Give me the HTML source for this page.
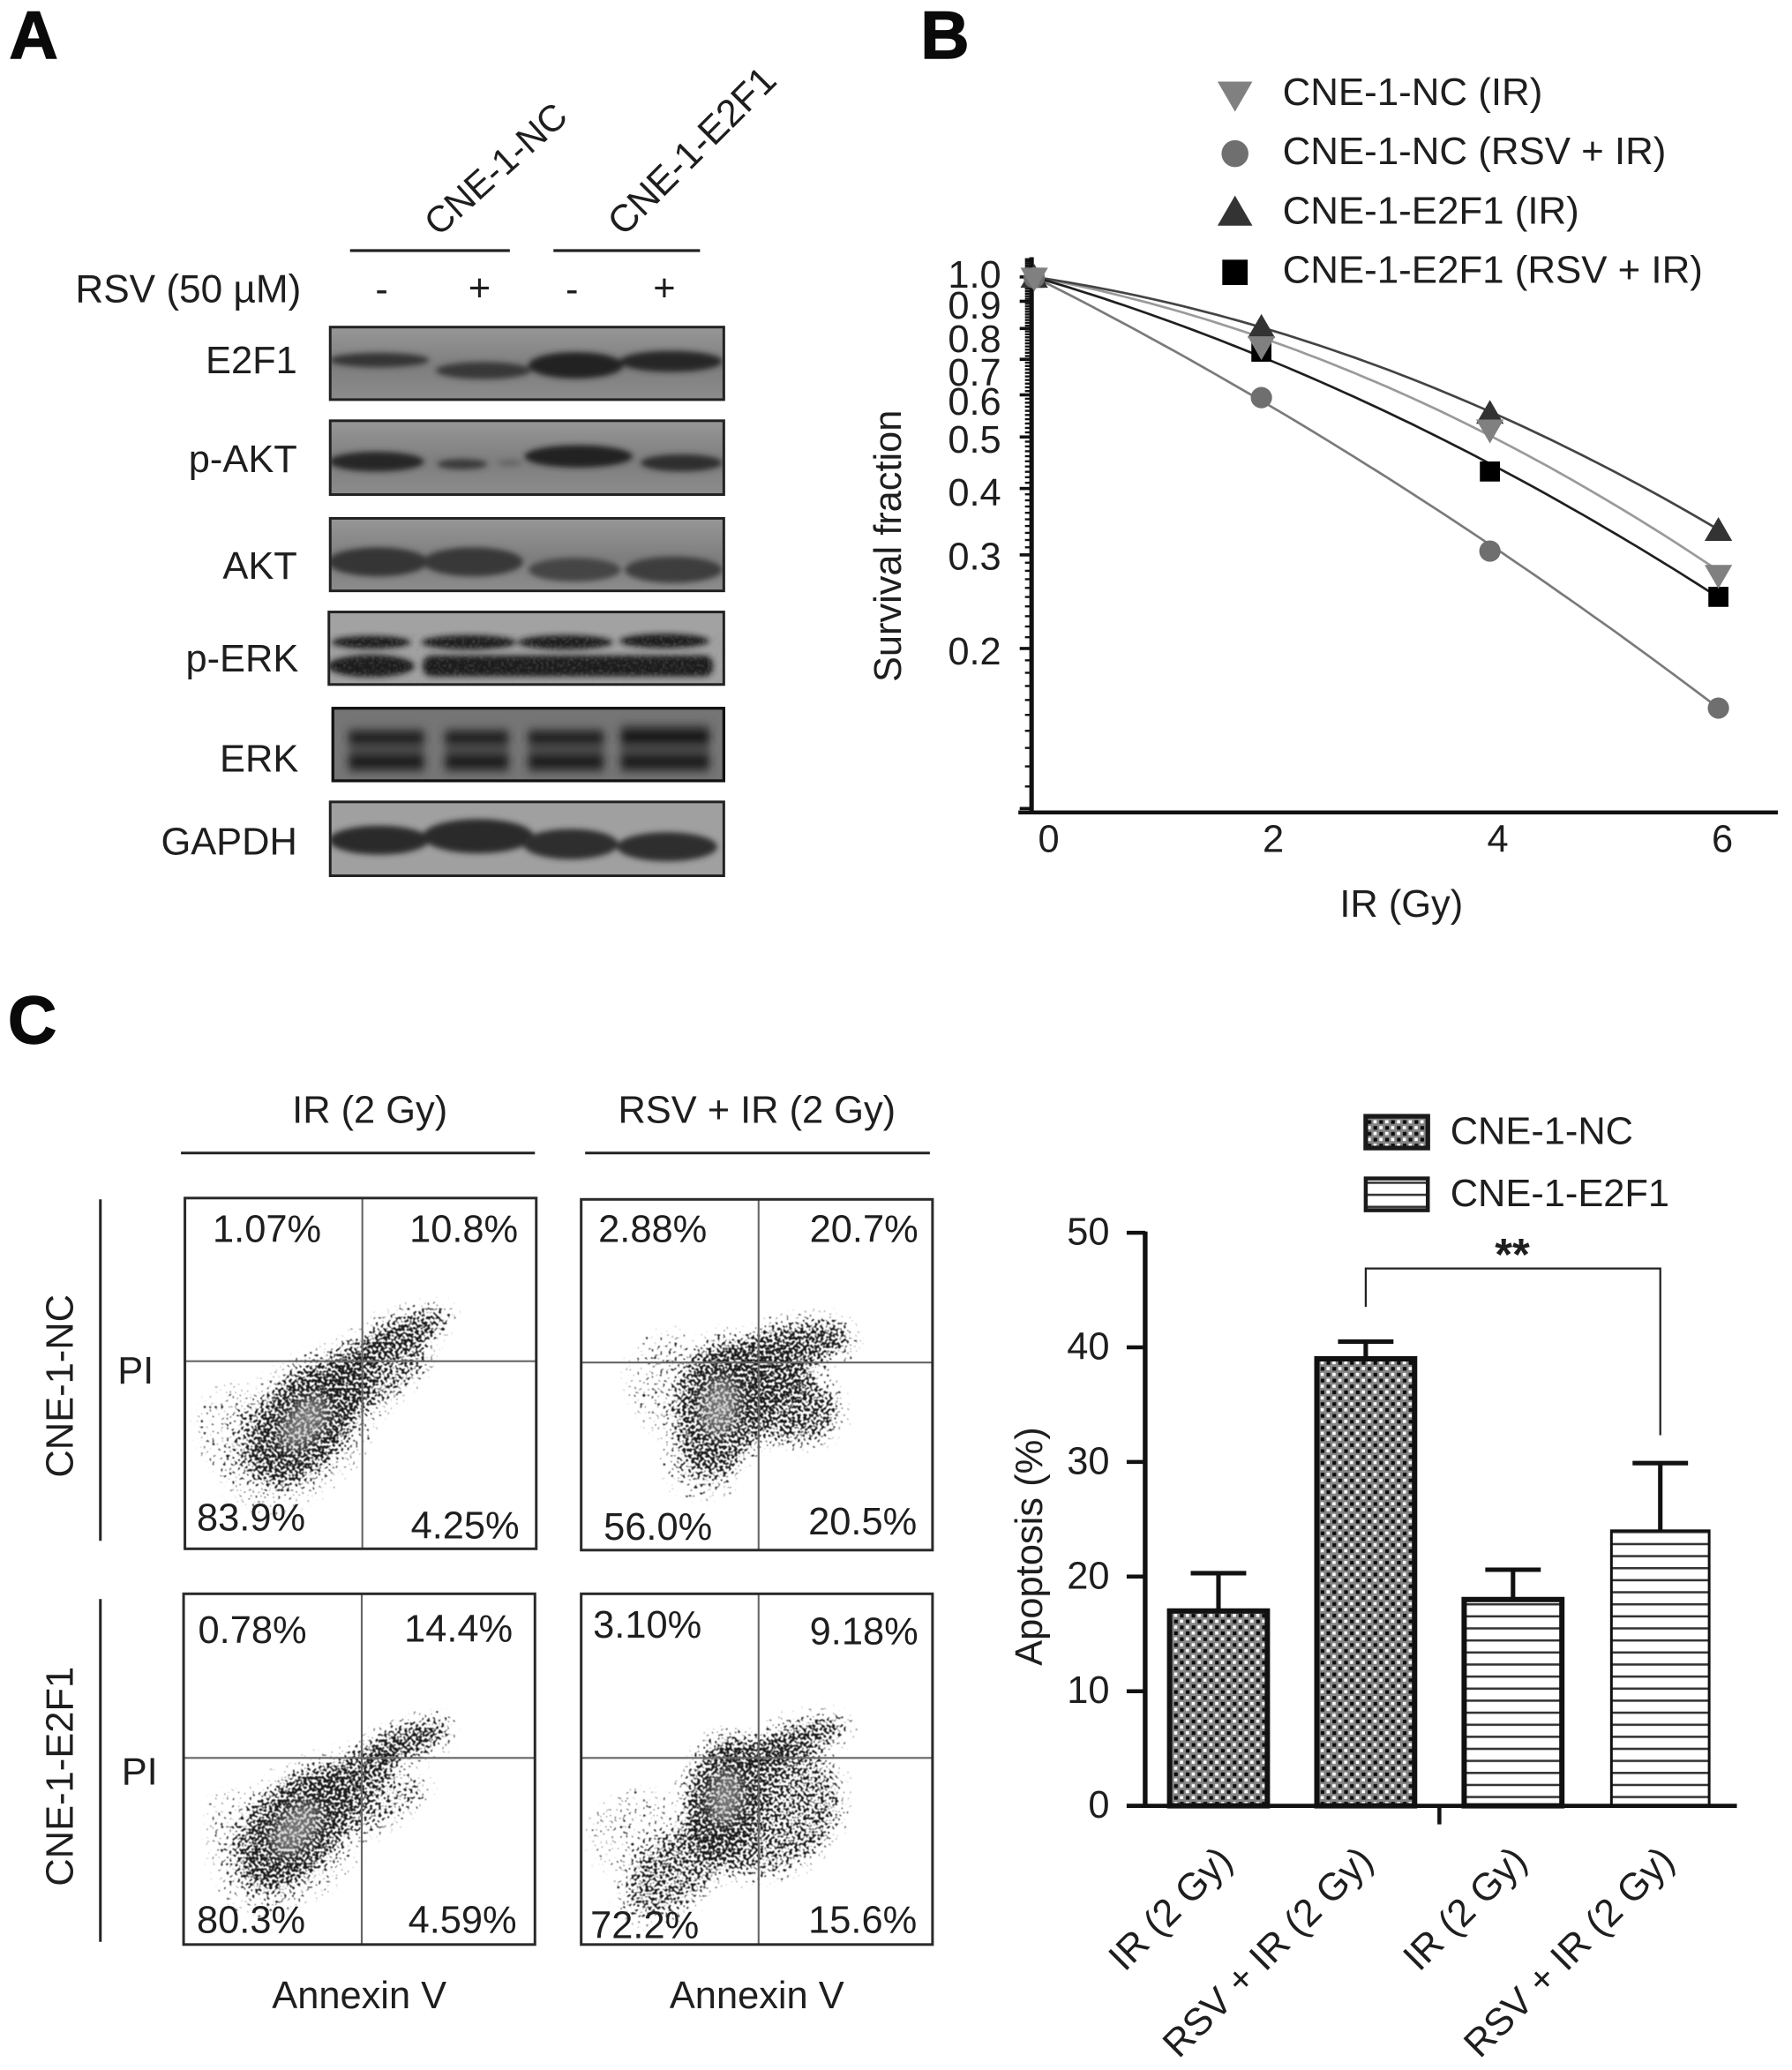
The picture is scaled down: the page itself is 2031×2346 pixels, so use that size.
<!DOCTYPE html>
<html lang="en">
<head>
<meta charset="utf-8">
<title>CNE-1 E2F1 radiosensitivity figure</title>
<style>
html,body{margin:0;padding:0;background:#fff;}
svg{display:block;}
text{font-family:"Liberation Sans",Arial,sans-serif;font-size:29px;fill:#1e1e1e;}
.end{text-anchor:end;}
.mid{text-anchor:middle;}
.panel-letter{font-weight:bold;font-size:51px;fill:#0a0a0a;stroke:#0a0a0a;stroke-width:1;}
</style>
</head>
<body>
<svg id="figure" xmlns="http://www.w3.org/2000/svg" width="2031" height="2346" viewBox="0 0 1354 1564">
<defs>
  <filter id="soft3" x="-20%" y="-60%" width="140%" height="220%"><feGaussianBlur stdDeviation="2.2"/></filter>
  <filter id="soft4" x="-20%" y="-60%" width="140%" height="220%"><feGaussianBlur stdDeviation="3.2"/></filter>
  <filter id="grain" x="0" y="0" width="1" height="1" color-interpolation-filters="sRGB">
    <feTurbulence type="fractalNoise" baseFrequency="0.5" numOctaves="1" seed="3" result="noise"/>
    <feColorMatrix in="noise" type="matrix" values="0 0 0 0 0.55  0 0 0 0 0.55  0 0 0 0 0.55  3.2 0 0 0 -1.5"/>
    <feGaussianBlur stdDeviation="0.5"/>
  </filter>
  <filter id="speckle" x="0" y="0" width="1" height="1" color-interpolation-filters="sRGB">
    <feGaussianBlur in="SourceAlpha" stdDeviation="6" result="density"/>
    <feComponentTransfer in="density" result="mask"><feFuncA type="linear" slope="12" intercept="-0.2"/></feComponentTransfer>
    <feTurbulence type="fractalNoise" baseFrequency="0.46" numOctaves="1" seed="7" result="noise"/>
    <feColorMatrix in="noise" type="matrix" values="0 0 0 0 0  0 0 0 0 0  0 0 0 0 0  1 0 0 0 0" result="noiseAlpha"/>
    <feComposite in="density" in2="noiseAlpha" operator="arithmetic" k1="0" k2="0.3" k3="1" k4="-0.69" result="sum"/>
    <feComponentTransfer in="sum" result="thresh"><feFuncA type="linear" slope="8" intercept="0"/></feComponentTransfer>
    <feFlood flood-color="#1a1a1a" result="ink"/>
    <feComposite in="ink" in2="thresh" operator="in" result="dots"/>
    <feComposite in="dots" in2="mask" operator="in" result="masked"/>
    <feGaussianBlur in="masked" stdDeviation="0.3"/>
  </filter>
  <filter id="coreBlur" x="-60%" y="-60%" width="220%" height="220%"><feGaussianBlur stdDeviation="5"/></filter>
  <pattern id="checker" patternUnits="userSpaceOnUse" width="8.88" height="8.88">
    <rect width="8.88" height="8.88" fill="#858585"/>
    <rect x="0.9" y="0.9" width="2.8" height="2.8" fill="#0c0c0c"/>
    <rect x="5.34" y="5.34" width="2.8" height="2.8" fill="#0c0c0c"/>
    <rect x="5.34" y="0.9" width="2.4" height="2.4" fill="#fff"/>
    <rect x="0.9" y="5.34" width="2.4" height="2.4" fill="#fff"/>
  </pattern>
  <pattern id="hlines" patternUnits="userSpaceOnUse" width="10" height="9.1">
    <rect width="10" height="9.1" fill="#fff"/>
    <rect y="3.6" width="10" height="1.7" fill="#333"/>
  </pattern>
  <linearGradient id="blotBg" x1="0" y1="0" x2="0" y2="1">
    <stop offset="0" stop-color="#979797"/><stop offset="0.55" stop-color="#7e7e7e"/><stop offset="1" stop-color="#8c8c8c"/>
  </linearGradient>
  <clipPath id="clip-e2f1"><rect x="250" y="248" width="298" height="55"/></clipPath>
  <clipPath id="clip-pakt"><rect x="250" y="319" width="298" height="56"/></clipPath>
  <clipPath id="clip-akt"><rect x="250" y="393" width="298" height="55"/></clipPath>
  <clipPath id="clip-perk"><rect x="249" y="464" width="299" height="55"/></clipPath>
  <clipPath id="clip-erk"><rect x="252" y="537" width="296" height="55"/></clipPath>
  <clipPath id="clip-gapdh"><rect x="250" y="608" width="298" height="56"/></clipPath>
</defs>

<!-- Panel A -->
<g transform="matrix(0.998 0 0 0.9965 0 0)">
  <text class="panel-letter" x="7" y="44">A</text>
  <text transform="translate(332 180) rotate(-42)" style="font-size:28px">CNE-1-NC</text>
  <text transform="translate(472 180) rotate(-45)">CNE-1-E2F1</text>
  <line x1="265" y1="190" x2="386" y2="190" stroke="#222" stroke-width="2.2"/>
  <line x1="419" y1="190" x2="530" y2="190" stroke="#222" stroke-width="2.2"/>
  <text x="57" y="229" style="font-size:29.5px">RSV (50 µM)</text>
  <text class="mid" x="289" y="229">-</text>
  <text class="mid" x="363" y="228">+</text>
  <text class="mid" x="433" y="229">-</text>
  <text class="mid" x="503" y="228">+</text>

  <text class="end" x="225" y="283">E2F1</text>
  <text class="end" x="225" y="358">p-AKT</text>
  <text class="end" x="225" y="439">AKT</text>
  <text class="end" x="226" y="509">p-ERK</text>
  <text class="end" x="226" y="585">ERK</text>
  <text class="end" x="225" y="648">GAPDH</text>

  <g>
    <rect x="250" y="248" width="298" height="55" fill="url(#blotBg)"/>
    <g clip-path="url(#clip-e2f1)" filter="url(#soft3)">
      <ellipse cx="287" cy="273" rx="38" ry="5.5" fill="#363636"/>
      <ellipse cx="366" cy="281" rx="36" ry="6.5" fill="#383838"/>
      <ellipse cx="436" cy="277" rx="36" ry="10" fill="#202020"/>
      <ellipse cx="508" cy="274" rx="39" ry="8" fill="#282828"/>
    </g>
    <rect x="250" y="248" width="298" height="55" fill="none" stroke="#222" stroke-width="2"/>
  </g>
  <g>
    <rect x="250" y="319" width="298" height="56" fill="url(#blotBg)"/>
    <g clip-path="url(#clip-pakt)" filter="url(#soft3)">
      <ellipse cx="285" cy="350" rx="36" ry="7.5" fill="#262626"/>
      <ellipse cx="350" cy="352" rx="19" ry="4" fill="#3a3a3a"/>
      <ellipse cx="386" cy="351" rx="9" ry="2.5" fill="#666"/>
      <ellipse cx="438" cy="346" rx="41" ry="8.5" fill="#202020"/>
      <ellipse cx="516" cy="351" rx="31" ry="6.5" fill="#2e2e2e"/>
    </g>
    <rect x="250" y="319" width="298" height="56" fill="none" stroke="#222" stroke-width="2"/>
  </g>
  <g>
    <rect x="250" y="393" width="298" height="55" fill="url(#blotBg)"/>
    <g clip-path="url(#clip-akt)" filter="url(#soft3)">
      <ellipse cx="286" cy="426" rx="38" ry="11" fill="#363636"/>
      <ellipse cx="358" cy="426" rx="38" ry="11" fill="#383838"/>
      <ellipse cx="435" cy="432" rx="35" ry="9" fill="#444"/>
      <ellipse cx="510" cy="432" rx="37" ry="10" fill="#3c3c3c"/>
    </g>
    <rect x="250" y="393" width="298" height="55" fill="none" stroke="#222" stroke-width="2"/>
  </g>
  <g>
    <rect x="249" y="464" width="299" height="55" fill="#a2a2a2"/>
    <g clip-path="url(#clip-perk)" filter="url(#soft3)">
      <ellipse cx="281" cy="487" rx="30" ry="5" fill="#1c1c1c"/>
      <ellipse cx="355" cy="487" rx="36" ry="5.5" fill="#1a1a1a"/>
      <ellipse cx="428" cy="487" rx="36" ry="5.5" fill="#1c1c1c"/>
      <ellipse cx="503" cy="486" rx="34" ry="5.5" fill="#1c1c1c"/>
      <ellipse cx="281" cy="505" rx="33" ry="8.5" fill="#1c1c1c"/>
      <rect x="320" y="497" width="220" height="16" rx="7" fill="#1c1c1c"/>
    </g>
    <rect x="249" y="480" width="299" height="38" filter="url(#grain)" clip-path="url(#clip-perk)" opacity="0.35"/>
    <rect x="249" y="464" width="299" height="55" fill="none" stroke="#222" stroke-width="2"/>
  </g>
  <g>
    <rect x="252" y="537" width="296" height="55" fill="#757575"/>
    <g clip-path="url(#clip-erk)" filter="url(#soft4)">
      <rect x="264" y="552" width="57" height="34" fill="#4c4c4c"/>
      <rect x="337" y="552" width="48" height="34" fill="#4c4c4c"/>
      <rect x="400" y="552" width="57" height="34" fill="#4c4c4c"/>
      <rect x="470" y="549" width="67" height="37" fill="#484848"/>
      <rect x="264" y="555" width="57" height="9" fill="#1c1c1c"/>
      <rect x="337" y="555" width="48" height="9" fill="#1c1c1c"/>
      <rect x="400" y="555" width="57" height="9" fill="#1c1c1c"/>
      <rect x="470" y="553" width="67" height="11" fill="#181818"/>
      <rect x="264" y="572" width="57" height="11" fill="#1a1a1a"/>
      <rect x="337" y="572" width="48" height="11" fill="#1a1a1a"/>
      <rect x="400" y="572" width="57" height="11" fill="#1a1a1a"/>
      <rect x="470" y="572" width="67" height="11" fill="#1a1a1a"/>
    </g>
    <rect x="252" y="537" width="296" height="55" fill="none" stroke="#111" stroke-width="2.2"/>
  </g>
  <g>
    <rect x="250" y="608" width="298" height="56" fill="#a0a0a0"/>
    <g clip-path="url(#clip-gapdh)" filter="url(#soft3)">
      <ellipse cx="287" cy="637" rx="38" ry="11" fill="#2b2b2b"/>
      <ellipse cx="362" cy="634" rx="42" ry="13" fill="#2b2b2b"/>
      <ellipse cx="432" cy="640" rx="36" ry="11.5" fill="#2e2e2e"/>
      <ellipse cx="505" cy="642" rx="38" ry="11" fill="#2e2e2e"/>
    </g>
    <rect x="250" y="608" width="298" height="56" fill="none" stroke="#222" stroke-width="2"/>
  </g>
</g>

<!-- Panel B -->
<g id="survival-chart" transform="matrix(0.998 0 0 0.9965 0 0)">
  <text class="panel-letter" x="697" y="44">B</text>
  <text class="mid" transform="translate(682 414) rotate(-90)">Survival fraction</text>
  <text class="mid" x="1061" y="695">IR (Gy)</text>
</g>

<!-- Panel C flow plots -->
<g id="flow-plots" transform="matrix(0.998 0 0 1 0 -2.8)">
  <text class="panel-letter" x="6" y="791">C</text>
  <text class="mid" x="280" y="851">IR (2 Gy)</text>
  <text class="mid" x="573" y="851">RSV + IR (2 Gy)</text>
  <line x1="137" y1="874" x2="405" y2="874" stroke="#222" stroke-width="2"/>
  <line x1="443" y1="874" x2="704" y2="874" stroke="#222" stroke-width="2"/>
  <line x1="76" y1="909" x2="76" y2="1167" stroke="#222" stroke-width="2"/>
  <line x1="76" y1="1211" x2="76" y2="1470" stroke="#222" stroke-width="2"/>
  <text class="mid" transform="translate(55 1050) rotate(-90)">CNE-1-NC</text>
  <text class="mid" transform="translate(55 1345) rotate(-90)">CNE-1-E2F1</text>
  <text x="89" y="1048">PI</text>
  <text x="92" y="1351">PI</text>
  <text class="mid" x="272" y="1520">Annexin V</text>
  <text class="mid" x="573" y="1520">Annexin V</text>
</g>

<!-- Panel C bars -->
<g id="bar-chart" transform="matrix(0.998 0 0 1 0 -2.6)">
  <text class="mid" transform="translate(789 1171) rotate(-90)">Apoptosis (%)</text>
  <rect x="1034" y="846" width="47" height="24" fill="url(#checker)" stroke="#1a1a1a" stroke-width="3.5"/>
  <rect x="1034" y="893" width="47" height="24" fill="url(#hlines)" stroke="#1a1a1a" stroke-width="3"/>
  <text x="1098" y="867">CNE-1-NC</text>
  <text x="1098" y="914">CNE-1-E2F1</text>
</g>

<script>
// ---------- Survival chart data (panel B) ----------
const doseValues = [0, 2, 4, 6];
const survivalTickLabels = [1.0, 0.9, 0.8, 0.7, 0.6, 0.5, 0.4, 0.3, 0.2];
const survivalNcIr = [1, 0.743, 0.518, 0.276];
const survivalNcRsvIr = [1, 0.595, 0.306, 0.155];
const survivalE2f1Ir = [1, 0.805, 0.555, 0.334];
const survivalE2f1RsvIr = [1, 0.726, 0.432, 0.251];
const survivalSeriesNames = ['CNE-1-NC (IR)', 'CNE-1-NC (RSV + IR)', 'CNE-1-E2F1 (IR)', 'CNE-1-E2F1 (RSV + IR)'];

// ---------- Flow cytometry data (panel C): cluster centres and spreads in channel units 0-100 ----------
const flowPanelNames = ['nc-ir', 'nc-rsv-ir', 'e2f1-ir', 'e2f1-rsv-ir'];
const flowAnnexin = [
  [34, 63, 54, 48, 13, 33],
  [39.5, 60, 60, 51, 25, 34],
  [32, 64, 49, 57, 15, 32],
  [41, 52, 27, 62.5, 50, 16]
];
const flowPI = [
  [36, 62, 49, 53.5, 34, 34],
  [41, 58, 40, 50, 48, 24],
  [33, 58, 48, 40, 33, 31],
  [42, 38, 21, 59, 54, 31]
];
const flowSpreadAnnexin = [
  [21, 13, 18, 11, 9, 27],
  [20, 18, 14, 15, 11, 10],
  [21, 13, 15, 14, 9, 27],
  [18, 23, 18, 14, 12, 13]
];
const flowSpreadPI = [
  [12.5, 5, 8, 5.5, 12, 17],
  [13, 7, 10, 10, 14, 9],
  [12.5, 5, 7, 6, 11, 17],
  [12, 18, 10, 5, 4.5, 13]
];
const flowTilt = [
  [50, 20, 30, 35, 0, 45],
  [80, 10, 0, 0, 0, 0],
  [50, 18, 35, 25, 0, 45],
  [80, 20, 40, 15, 0, 0]
];
const flowDensity = [
  [0.9, 0.9, 0.7, 0.85, 0.28, 0.32],
  [0.85, 0.88, 0.8, 0.75, 0.32, 0.42],
  [0.9, 0.9, 0.85, 0.55, 0.25, 0.28],
  [0.82, 0.72, 0.72, 0.85, 0.85, 0.25]
];
const flowPercentLabels = [
  ['1.07%', '10.8%', '83.9%', '4.25%'],
  ['2.88%', '20.7%', '56.0%', '20.5%'],
  ['0.78%', '14.4%', '80.3%', '4.59%'],
  ['3.10%', '9.18%', '72.2%', '15.6%']
];

// ---------- Apoptosis bar data (panel C) ----------
const barCategories = ['IR (2 Gy)', 'RSV + IR (2 Gy)', 'IR (2 Gy)', 'RSV + IR (2 Gy)'];
const barGroups = ['CNE-1-NC', 'CNE-1-NC', 'CNE-1-E2F1', 'CNE-1-E2F1'];
const barValues = [17, 39, 18, 24];
const barErrors = [3.3, 1.5, 2.6, 5.9];
const barTickLabels = [0, 10, 20, 30, 40, 50];

// ---------- helpers ----------
const NS = 'http://www.w3.org/2000/svg';
function make(tag, attrs, parent, txt) {
  const e = document.createElementNS(NS, tag);
  for (const k in attrs) e.setAttribute(k, attrs[k]);
  if (txt !== undefined) e.textContent = txt;
  parent.appendChild(e);
  return e;
}

// ---------- Panel B ----------
(function () {
  const root = document.getElementById('survival-chart');
  const sx = d => 783 + 86.5 * d;
  const sy = v => 210 - 403 * Math.log10(v);
  const baseY = 616;

  const seriesValues = [survivalNcIr, survivalNcRsvIr, survivalE2f1Ir, survivalE2f1RsvIr];
  const lineColors = ['#9a9a9a', '#7a7a7a', '#444444', '#1f1f1f'];
  const markerColors = ['#808080', '#6f6f6f', '#333333', '#000000'];
  const markerKinds = ['down', 'circle', 'up', 'square'];
  const drawOrder = [3, 2, 1, 0];

  function marker(kind, x, y, s, color, parent) {
    if (kind === 'circle') return make('circle', {cx: x, cy: y, r: s * 0.85, fill: color}, parent);
    if (kind === 'square') return make('rect', {x: x - s * 0.8, y: y - s * 0.8, width: s * 1.6, height: s * 1.6, fill: color}, parent);
    const d = kind === 'up' ? -1 : 1;
    const pts = [[x - s * 1.1, y - d * s * 0.8], [x + s * 1.1, y - d * s * 0.8], [x, y + d * s * 1.1]].map(p => p.join(',')).join(' ');
    return make('polygon', {points: pts, fill: color}, parent);
  }

  // linear-quadratic fit through the origin for each series
  function fit(values) {
    let s11 = 0, s12 = 0, s22 = 0, b1 = 0, b2 = 0;
    doseValues.forEach((d, i) => {
      if (d === 0) return;
      const l = Math.log(values[i]);
      s11 += d * d; s12 += d * d * d; s22 += d * d * d * d;
      b1 += d * l; b2 += d * d * l;
    });
    const det = s11 * s22 - s12 * s12;
    return [(b1 * s22 - b2 * s12) / det, (s11 * b2 - s12 * b1) / det];
  }

  seriesValues.forEach((values, si) => {
    const co = fit(values);
    let pts = '';
    for (let k = 0; k <= 60; k++) {
      const d = 6 * k / 60;
      pts += sx(d).toFixed(1) + ',' + sy(Math.exp(co[0] * d + co[1] * d * d)).toFixed(1) + ' ';
    }
    const line = make('polyline', {points: pts, fill: 'none', stroke: lineColors[si], 'stroke-width': 1.8}, root);
    
    
  });

  // axes
  const yAxis = make('line', {x1: 781, y1: 195, x2: 781, y2: baseY + 1, stroke: '#111', 'stroke-width': 3.4}, root);
  
  
  const xAxis = make('line', {x1: 771, y1: baseY, x2: 1346, y2: baseY, stroke: '#111', 'stroke-width': 3}, root);
  
  
  for (let i = 10; i <= 108; i += 1) {
    const v = i / 100;
    if (sy(v) > baseY) continue;
    const major = i % 10 === 0;
    const t = make('line', {x1: major ? 772 : 776, y1: sy(v), x2: 781, y2: sy(v), stroke: '#111', 'stroke-width': major ? 2.4 : 1.6}, root);
    
    
  }

  drawOrder.forEach(si => {
    seriesValues[si].forEach((v, i) => {
      const m = marker(markerKinds[si], sx(doseValues[i]) - (i === 0 ? 0 : 1), sy(v) + 0.6, 9.5, markerColors[si], root);
      
      
    });
  });

  const labelNudge = {'1': -2, '0.9': 3, '0.8': 8, '0.7': 10, '0.6': 5, '0.5': 2, '0.4': 3, '0.3': 1, '0.2': 2};
  survivalTickLabels.forEach(v => {
    const t = make('text', {x: 758, y: sy(v) + 10 + labelNudge[String(v)], 'text-anchor': 'end'}, root, v.toFixed(1));
    
    
  });
  doseValues.forEach(d => {
    const t = make('text', {x: sx(d) + 2 + (6 - d) * 1.5, y: 646, 'text-anchor': 'middle'}, root, String(d));
    
    
  });

  // legend
  survivalSeriesNames.forEach((n, i) => {
    const ly = 71.5 + 45 * i;
    const m = marker(markerKinds[i], 935, ly, 12, markerColors[i], root);
    
    
    const t = make('text', {x: 971, y: ly + 8, style: 'font-size:29.3px'}, root, n);
    
    
  });
})();

// ---------- Panel C flow plots ----------
(function () {
  const root = document.getElementById('flow-plots');
  const lefts = [140, 440, 139, 440];
  const tops = [908, 909, 1207, 1207];
  const crossA = [50.5, 50.5, 50.7, 50.5];
  const crossP = [53.5, 53.5, 53.2, 53.2];
  const W = 266, H = 265;
  const labelX = [[161, 310, 149, 311], [453, 613, 457, 612], [150, 306, 149, 309], [449, 613, 447, 612]];
  const labelY = [[941, 941, 1159, 1165], [941, 941, 1166, 1162], [1244, 1243, 1463, 1463], [1240, 1245, 1467, 1463]];

  flowPanelNames.forEach((name, p) => {
    const g = make('g', {}, root);
    
    
    const px = a => lefts[p] + a / 100 * W;
    const py = v => tops[p] + H - v / 100 * H;

    const bg = make('rect', {x: lefts[p], y: tops[p], width: W, height: H, fill: '#fff'}, g);
    
    

    const dots = make('g', {filter: 'url(#speckle)'}, g);
    
    
    const box = make('rect', {x: lefts[p], y: tops[p], width: W, height: H, fill: '#000', 'fill-opacity': 0}, dots);
    
    
    flowAnnexin[p].forEach((a, c) => {
      const cx = px(a), cy = py(flowPI[p][c]);
      const e = make('ellipse', {
        cx: cx, cy: cy,
        rx: flowSpreadAnnexin[p][c] * W / 100,
        ry: flowSpreadPI[p][c] * H / 100,
        fill: '#000', 'fill-opacity': flowDensity[p][c],
        transform: 'rotate(' + (-flowTilt[p][c]) + ' ' + cx + ' ' + cy + ')'
      }, dots);
      
      
    });

    const cx0 = px(flowAnnexin[p][0]), cy0 = py(flowPI[p][0]);
    const core = make('ellipse', {
      cx: cx0, cy: cy0,
      rx: flowSpreadAnnexin[p][0] * W / 100 * 0.42,
      ry: flowSpreadPI[p][0] * H / 100 * 0.4,
      fill: '#b5b5b5', 'fill-opacity': 0.55, filter: 'url(#coreBlur)',
      transform: 'rotate(' + (-flowTilt[p][0]) + ' ' + cx0 + ' ' + cy0 + ')'
    }, g);
    
    

    const hLine = make('line', {x1: lefts[p], y1: py(crossP[p]), x2: lefts[p] + W, y2: py(crossP[p]), stroke: '#666', 'stroke-width': 1.4}, g);
    
    
    const vLine = make('line', {x1: px(crossA[p]), y1: tops[p], x2: px(crossA[p]), y2: tops[p] + H, stroke: '#666', 'stroke-width': 1.4}, g);
    
    
    const border = make('rect', {x: lefts[p], y: tops[p], width: W, height: H, fill: 'none', stroke: '#2a2a2a', 'stroke-width': 2}, g);
    
    

    flowPercentLabels[p].forEach((s, i) => {
      const t = make('text', {x: labelX[p][i], y: labelY[p][i]}, g, s);
      
      
    });
  });
})();

// ---------- Panel C bars ----------
(function () {
  const root = document.getElementById('bar-chart');
  const bx = i => 922.5 + 111.5 * i;
  const by = v => 1367 - 8.66 * v;
  const halfW = 37;
  const strokeW = [4, 4, 4, 2];
  const labelShift = [12, 7, 12, 12];

  barValues.forEach((v, i) => {
    const top = v + barErrors[i];
    const stem = make('line', {x1: bx(i), y1: by(v), x2: bx(i), y2: by(top), stroke: '#111', 'stroke-width': 3.4}, root);
    
    
    const cap = make('line', {x1: bx(i) - 21, y1: by(top), x2: bx(i) + 21, y2: by(top), stroke: '#111', 'stroke-width': 3.4}, root);
    
    
    const r = make('rect', {
      x: bx(i) - halfW, y: by(v), width: halfW * 2, height: by(0) - by(v),
      fill: barGroups[i] === 'CNE-1-NC' ? 'url(#checker)' : 'url(#hlines)',
      stroke: '#111', 'stroke-width': strokeW[i]
    }, root);
    
    
    const lab = make('text', {
      'text-anchor': 'end',
      transform: 'translate(' + (bx(i) + labelShift[i]) + ' 1410) rotate(-45)'
    }, root, barCategories[i]);
    
    
  });

  const yAxis = make('line', {x1: 867, y1: by(50) - 1, x2: 867, y2: by(0) + 1, stroke: '#111', 'stroke-width': 3.6}, root);
  
  
  const xAxis = make('line', {x1: 853, y1: by(0), x2: 1315, y2: by(0), stroke: '#111', 'stroke-width': 3.2}, root);
  
  
  const midTick = make('line', {x1: (bx(1) + bx(2)) / 2, y1: by(0), x2: (bx(1) + bx(2)) / 2, y2: by(0) + 14, stroke: '#111', 'stroke-width': 3}, root);
  
  

  barTickLabels.forEach(v => {
    const tick = make('line', {x1: 853, y1: by(v), x2: 867, y2: by(v), stroke: '#111', 'stroke-width': 3}, root);
    
    
    const t = make('text', {x: 840, y: by(v) + 9, 'text-anchor': 'end'}, root, String(v));
    
    
  });

  const bY = 961;
  const d = 'M' + bx(1) + ' 990 V' + bY + ' H' + bx(3) + ' V1087';
  const bracket = make('path', {d: d, fill: 'none', stroke: '#222', 'stroke-width': 1.5}, root);
  
  
  const stars = make('text', {x: 1145, y: 962, 'text-anchor': 'middle', style: 'font-size:34px;font-weight:bold'}, root, '**');
  
  
})();
</script>
</svg>
</body>
</html>
